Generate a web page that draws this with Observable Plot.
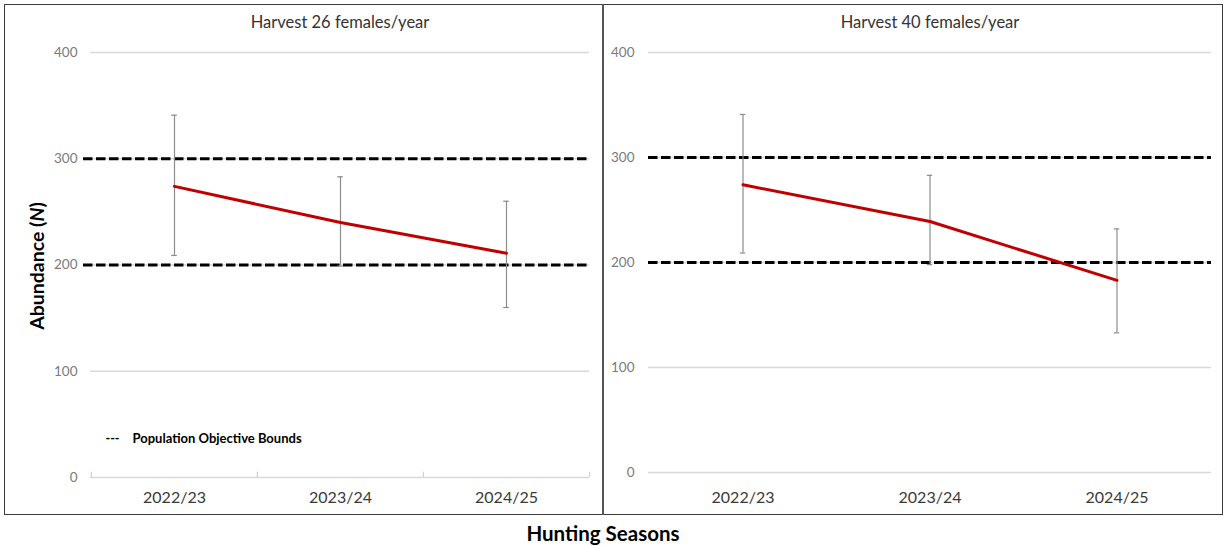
<!DOCTYPE html>
<html>
<head>
<meta charset="utf-8">
<script src="https://cdn.jsdelivr.net/npm/d3@7"></script>
<script src="https://cdn.jsdelivr.net/npm/@observablehq/plot@0.6"></script>
<style>
  html, body { margin: 0; padding: 0; background: #fff; }
  #chart { position: relative; width: 1227px; height: 546px; font-family: Lato, "Open Sans", sans-serif; }
  #frame { position: absolute; left: 4px; top: 4px; width: 1219px; height: 511px; box-sizing: border-box; border: 1.5px solid #3c3c3c; }
  #divider { position: absolute; left: 602px; top: 4px; width: 1.5px; height: 511px; background: #555; }
  .panel { position: absolute; top: 0; }
  .panel svg { overflow: visible; }
  #ylabel { position: absolute; left: 36px; top: 266px; transform: translate(-50%, -50%) rotate(-90deg); font-weight: 700; font-size: 19.5px; color: #000; white-space: nowrap; }
  #xlabel { position: absolute; left: 603px; top: 533px; transform: translate(-50%, -50%); font-weight: 700; font-size: 20.5px; color: #000; white-space: nowrap; }
</style>
</head>
<body>
<div id="chart">
  <div id="frame"></div>
  <div id="divider"></div>
  <div id="left" class="panel" style="left:0px"></div>
  <div id="right" class="panel" style="left:603px"></div>
  <div id="ylabel">Abundance (<i>N</i>)</div>
  <div id="xlabel">Hunting Seasons</div>
</div>
<script>
// Hunting seasons on the x axis
const seasons = ["2022/23", "2023/24", "2024/25"];

// Harvest 26 females/year: estimated abundance with lower/upper bounds
const abundance26 = [274, 240, 211];
const lower26 = [209, 199, 160];
const upper26 = [341, 283, 260];

// Harvest 40 females/year: estimated abundance with lower/upper bounds
const abundance40 = [274, 239, 183];
const lower40 = [209, 198, 133];
const upper40 = [341, 283, 232];

// Population objective bounds and y-axis ticks
const objectiveBounds = [200, 300];
const yTicks = [0, 100, 200, 300, 400];

const panelTitles = ["Harvest 26 females/year", "Harvest 40 females/year"];
const legendLabel = "Population Objective Bounds";

const font = "Lato, 'Open Sans', sans-serif";

function panel({title, n, lo, hi, width, height, margin, xPad, yPad, legend, boundaryTicks, boundsInset}) {
  const rows = seasons.map((s, i) => ({season: s, n: n[i], lo: lo[i], hi: hi[i]}));
  const bw = (width - margin.left - margin.right) / seasons.length;
  const capInset = (bw - 6) / 2;
  const barStyle = {stroke: "#8c8c8c", strokeWidth: 1.2};

  const marks = [
    // light horizontal gridlines
    Plot.ruleY(yTicks, {stroke: "#d9d9d9", strokeWidth: 1.3})
  ];
  if (boundaryTicks) {
    // small category-boundary ticks on the baseline
    marks.push(Plot.ruleX(seasons, {x: d => d, y1: 0, y2: 5, stroke: "#d0d0d0", strokeWidth: 1.2, dx: -bw / 2}));
    marks.push(Plot.ruleX(seasons.slice(-1), {x: d => d, y1: 0, y2: 5, stroke: "#d0d0d0", strokeWidth: 1.2, dx: bw / 2}));
  }
  marks.push(
    // population objective bounds
    Plot.ruleY(objectiveBounds, {stroke: "#000", strokeWidth: 3.2, strokeDasharray: "9.5 3.5", insetLeft: boundsInset}),
    // error bars with caps
    Plot.ruleX(rows, {x: "season", y1: "lo", y2: "hi", ...barStyle}),
    Plot.tickY(rows, {x: "season", y: "lo", insetLeft: capInset, insetRight: capInset, ...barStyle}),
    Plot.tickY(rows, {x: "season", y: "hi", insetLeft: capInset, insetRight: capInset, ...barStyle}),
    // abundance trend
    Plot.line(rows, {x: "season", y: "n", stroke: "#c00000", strokeWidth: 3}),
    Plot.axisY({ticks: yTicks, tickSize: 0, tickPadding: yPad, fontSize: 13.5, color: "#7a7a7a", label: null}),
    Plot.axisX({tickSize: 0, tickPadding: xPad, fontSize: 16, color: "#3a3a3a", label: null}),
    Plot.text([title], {frameAnchor: "top", dy: -30, lineAnchor: "middle", fontSize: 16.5, fill: "#333"})
  );
  if (legend) {
    marks.push(
      Plot.text(["---"], {frameAnchor: "bottom-left", dx: 15, dy: -39, textAnchor: "start", lineAnchor: "middle", fontSize: 12.5, fontWeight: 700, fill: "#000"}),
      Plot.text([legendLabel], {frameAnchor: "bottom-left", dx: 42, dy: -39, textAnchor: "start", lineAnchor: "middle", fontSize: 13, fontWeight: 700, fill: "#000"})
    );
  }
  return Plot.plot({
    width, height,
    marginLeft: margin.left, marginRight: margin.right, marginTop: margin.top, marginBottom: margin.bottom,
    x: {type: "band", domain: seasons, padding: 0},
    y: {domain: [0, 400]},
    style: {fontFamily: font, background: "transparent", overflow: "visible"},
    marks
  });
}

document.getElementById("left").append(panel({
  title: panelTitles[0], n: abundance26, lo: lower26, hi: upper26,
  width: 603, height: 514,
  margin: {left: 90, right: 14, top: 52, bottom: 37},
  xPad: 14, yPad: 13, legend: true, boundaryTicks: true, boundsInset: -7
}));

document.getElementById("right").append(panel({
  title: panelTitles[1], n: abundance40, lo: lower40, hi: upper40,
  width: 620, height: 514,
  margin: {left: 45, right: 12, top: 52, bottom: 42},
  xPad: 19, yPad: 14, legend: false, boundaryTicks: false, boundsInset: 0
}));
</script>
</body>
</html>
